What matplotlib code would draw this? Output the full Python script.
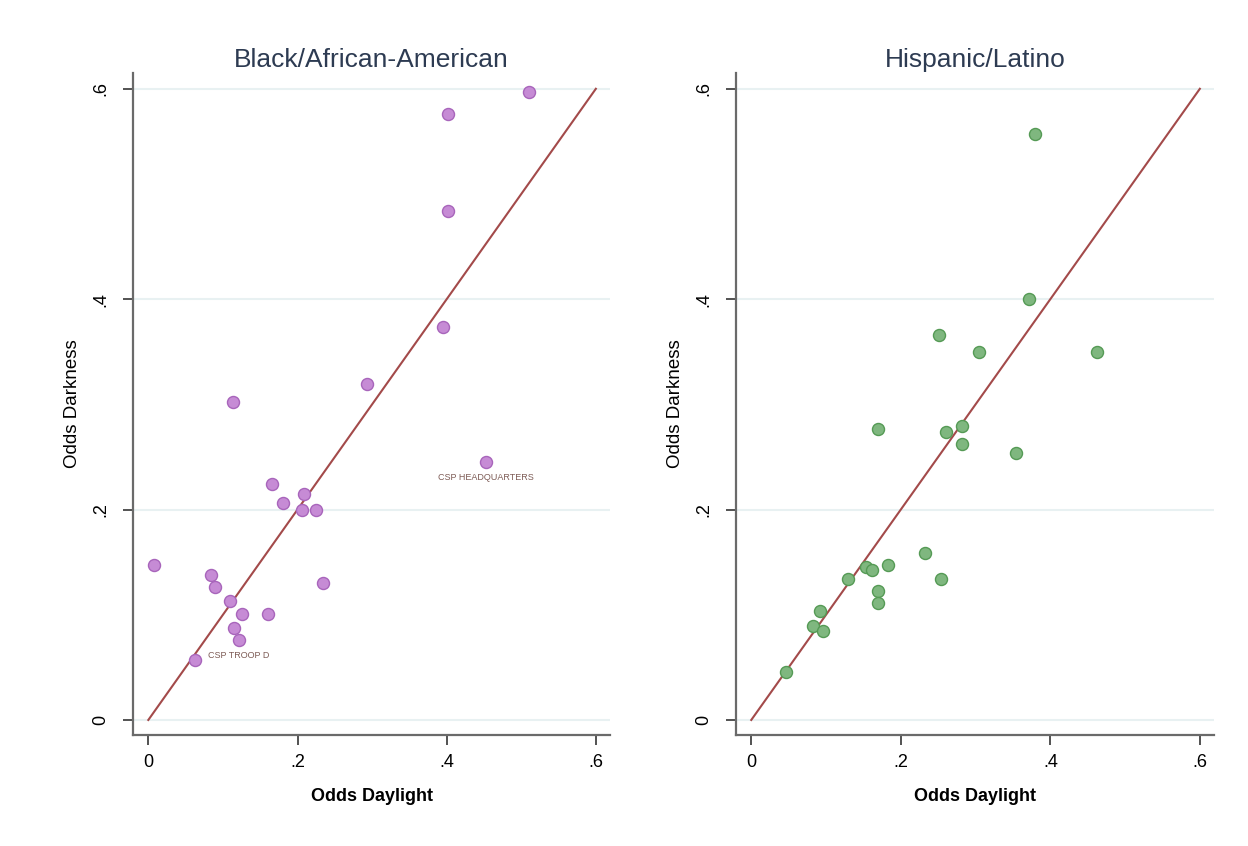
import matplotlib
matplotlib.use("Agg")
import matplotlib.pyplot as plt

plt.rcParams['font.family'] = ['Liberation Sans', 'DejaVu Sans']

# Black/African-American panel
black_daylight = [0.008, 0.510, 0.402, 0.402, 0.395, 0.293, 0.114, 0.453,
                  0.166, 0.181, 0.209, 0.206, 0.225, 0.234, 0.084, 0.089,
                  0.109, 0.125, 0.161, 0.115, 0.122, 0.062]
black_darkness = [0.147, 0.597, 0.576, 0.484, 0.374, 0.319, 0.302, 0.245,
                  0.224, 0.206, 0.215, 0.200, 0.200, 0.130, 0.138, 0.126,
                  0.113, 0.101, 0.101, 0.087, 0.076, 0.057]
black_labels = {7: "CSP HEADQUARTERS", 21: "CSP TROOP D"}

# Hispanic/Latino panel
hisp_daylight = [0.379, 0.372, 0.251, 0.305, 0.463, 0.170, 0.260, 0.282,
                 0.282, 0.354, 0.233, 0.183, 0.154, 0.162, 0.130, 0.254,
                 0.169, 0.169, 0.092, 0.083, 0.096, 0.047]
hisp_darkness = [0.557, 0.400, 0.366, 0.350, 0.350, 0.277, 0.274, 0.279,
                 0.262, 0.254, 0.159, 0.147, 0.145, 0.143, 0.134, 0.134,
                 0.123, 0.111, 0.104, 0.089, 0.085, 0.046]

titles = ["Black/African-American", "Hispanic/Latino"]
ticks = [0, 0.2, 0.4, 0.6]
tick_labels = ["0", ".2", ".4", ".6"]
x_title = "Odds Daylight"
y_title = "Odds Darkness"

fig = plt.figure(figsize=(12.48, 8.46), dpi=100)
fig.patch.set_facecolor("white")

axes_pos = [[0.1066, 0.1312, 0.3822, 0.7825],
            [0.5897, 0.1312, 0.3831, 0.7825]]

panels = [
    (black_daylight, black_darkness, "#c68bd5", "#a865bb", black_labels),
    (hisp_daylight, hisp_darkness, "#7fb77f", "#559a55", {}),
]

for i, (xs, ys, fc, ec, labels) in enumerate(panels):
    ax = fig.add_axes(axes_pos[i])
    ax.set_xlim(-0.0205, 0.619)
    ax.set_ylim(-0.0143, 0.615)
    for yv in ticks:
        ax.axhline(yv, color="#e8f1f2", lw=1.5, zorder=0)
    ax.plot([0, 0.6], [0, 0.6], color="#a34a4a", lw=1.5, zorder=2)
    ax.scatter(xs, ys, s=75, facecolor=fc, edgecolor=ec, linewidth=1.0, zorder=3)
    for idx, lab in labels.items():
        if lab == "CSP HEADQUARTERS":
            ax.annotate(lab, (xs[idx], ys[idx]), xytext=(0, -11), textcoords="offset points",
                        ha="center", va="center", fontsize=6.5, color="#7d5b55", zorder=4)
        else:
            ax.annotate(lab, (xs[idx], ys[idx]), xytext=(10, 3), textcoords="offset points",
                        ha="left", va="center", fontsize=6.5, color="#7d5b55", zorder=4)
    for s in ["top", "right"]:
        ax.spines[s].set_visible(False)
    for s in ["left", "bottom"]:
        ax.spines[s].set_color("#6a6a6a")
        ax.spines[s].set_linewidth(1.6)
    ax.set_xticks(ticks)
    ax.set_xticklabels(tick_labels, fontsize=13)
    ax.set_yticks(ticks)
    ax.set_yticklabels(tick_labels, fontsize=13, rotation=90, va="center")
    ax.tick_params(axis="x", direction="out", length=7, width=1.3, color="#444444", pad=7)
    ax.tick_params(axis="y", direction="out", length=7, width=1.3, color="#444444", pad=10)
    ax.set_title(titles[i], fontsize=19, color="#2d3b52", pad=4)
    ax.set_xlabel(x_title, fontsize=13, fontweight="bold", labelpad=12)
    ax.set_ylabel(y_title, fontsize=13.5, labelpad=8)

fig.savefig("out.png", dpi=100, facecolor="white")
